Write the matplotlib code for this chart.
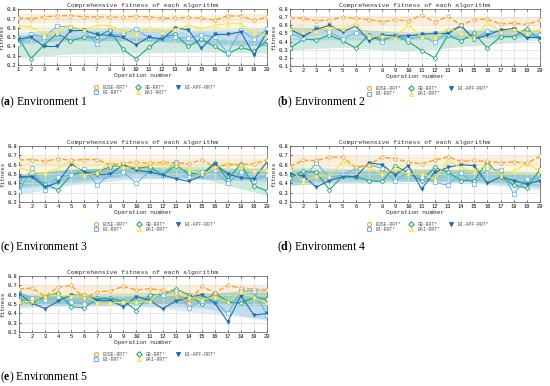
import numpy as np
import matplotlib.pyplot as plt
from matplotlib.lines import Line2D

# operation numbers
ops = list(range(1, 21))
band_x = [1, 5, 10, 15, 20]

algos = ['BOSE-RRT*', 'BI-RRT*', 'GB-RRT*', 'BAI-RRT*', 'BI-APF-RRT*']

# Environment 1
env1_bose = [0.71, 0.70, 0.72, 0.73, 0.735, 0.72, 0.72, 0.715, 0.72, 0.725, 0.72, 0.705, 0.705, 0.715, 0.705, 0.685, 0.73, 0.73, 0.685, 0.715]
env1_bi = [0.43, 0.535, 0.50, 0.62, 0.61, 0.58, 0.43, 0.52, 0.53, 0.59, 0.49, 0.49, 0.50, 0.49, 0.525, 0.50, 0.33, 0.58, 0.48, 0.585]
env1_gb = [0.50, 0.27, 0.42, 0.54, 0.46, 0.50, 0.50, 0.58, 0.37, 0.27, 0.39, 0.50, 0.53, 0.40, 0.48, 0.40, 0.32, 0.39, 0.35, 0.46]
env1_bai = [0.63, 0.61, 0.535, 0.56, 0.62, 0.58, 0.63, 0.625, 0.57, 0.535, 0.60, 0.56, 0.585, 0.63, 0.59, 0.63, 0.645, 0.645, 0.55, 0.515]
env1_apf = [0.48, 0.50, 0.40, 0.40, 0.57, 0.575, 0.53, 0.52, 0.50, 0.42, 0.50, 0.48, 0.60, 0.58, 0.38, 0.53, 0.53, 0.56, 0.31, 0.56]
env1_bands = {
    'BOSE-RRT*': ([0.65, 0.66, 0.66, 0.66, 0.65], [0.76, 0.76, 0.75, 0.74, 0.76]),
    'BAI-RRT*': ([0.55, 0.56, 0.55, 0.56, 0.55], [0.64, 0.63, 0.62, 0.63, 0.63]),
    'BI-RRT*': ([0.44, 0.47, 0.46, 0.45, 0.40], [0.55, 0.60, 0.60, 0.58, 0.60]),
    'GB-RRT*': ([0.28, 0.32, 0.33, 0.34, 0.33], [0.52, 0.52, 0.50, 0.47, 0.47]),
    'BI-APF-RRT*': ([0.42, 0.46, 0.46, 0.42, 0.40], [0.52, 0.58, 0.56, 0.56, 0.56]),
}

# Environment 2
env2_bose = [0.69, 0.685, 0.655, 0.665, 0.70, 0.685, 0.67, 0.645, 0.665, 0.655, 0.725, 0.64, 0.71, 0.60, 0.67, 0.675, 0.615, 0.625, 0.61, 0.66]
env2_bi = [0.50, 0.44, 0.57, 0.52, 0.43, 0.51, 0.47, 0.40, 0.48, 0.43, 0.47, 0.39, 0.52, 0.60, 0.43, 0.53, 0.52, 0.55, 0.47, 0.48]
env2_gb = [0.32, 0.43, 0.42, 0.48, 0.41, 0.32, 0.48, 0.42, 0.47, 0.40, 0.29, 0.20, 0.48, 0.41, 0.50, 0.32, 0.46, 0.46, 0.56, 0.42]
env2_bai = [0.56, 0.52, 0.53, 0.57, 0.56, 0.62, 0.46, 0.47, 0.45, 0.61, 0.46, 0.46, 0.56, 0.50, 0.44, 0.63, 0.52, 0.55, 0.50, 0.55]
env2_apf = [0.55, 0.47, 0.55, 0.60, 0.52, 0.59, 0.41, 0.48, 0.47, 0.47, 0.49, 0.50, 0.50, 0.59, 0.43, 0.48, 0.54, 0.56, 0.45, 0.45]
env2_bands = {
    'BOSE-RRT*': ([0.60, 0.61, 0.61, 0.61, 0.60], [0.72, 0.72, 0.72, 0.71, 0.70]),
    'BAI-RRT*': ([0.47, 0.48, 0.47, 0.48, 0.48], [0.60, 0.60, 0.58, 0.59, 0.58]),
    'BI-RRT*': ([0.42, 0.42, 0.42, 0.44, 0.46], [0.58, 0.56, 0.52, 0.55, 0.54]),
    'GB-RRT*': ([0.30, 0.33, 0.28, 0.35, 0.42], [0.45, 0.46, 0.46, 0.48, 0.50]),
    'BI-APF-RRT*': ([0.47, 0.47, 0.45, 0.47, 0.46], [0.58, 0.57, 0.50, 0.54, 0.54]),
}

# Environment 3
env3_bose = [0.65, 0.655, 0.635, 0.665, 0.645, 0.655, 0.655, 0.595, 0.62, 0.625, 0.615, 0.625, 0.62, 0.61, 0.65, 0.575, 0.60, 0.60, 0.61, 0.65]
env3_bi = [0.32, 0.56, 0.33, 0.47, 0.49, 0.55, 0.38, 0.50, 0.52, 0.40, 0.53, 0.49, 0.63, 0.47, 0.52, 0.54, 0.40, 0.52, 0.43, 0.49]
env3_gb = [0.46, 0.48, 0.39, 0.33, 0.49, 0.52, 0.52, 0.58, 0.59, 0.56, 0.58, 0.49, 0.59, 0.51, 0.50, 0.62, 0.44, 0.61, 0.37, 0.32]
env3_bai = [0.57, 0.52, 0.51, 0.56, 0.64, 0.49, 0.51, 0.63, 0.57, 0.58, 0.60, 0.60, 0.60, 0.54, 0.50, 0.56, 0.62, 0.59, 0.53, 0.54]
env3_apf = [0.47, 0.47, 0.36, 0.41, 0.61, 0.52, 0.49, 0.50, 0.60, 0.54, 0.52, 0.49, 0.45, 0.42, 0.48, 0.61, 0.50, 0.46, 0.45, 0.63]
env3_bands = {
    'BOSE-RRT*': ([0.59, 0.60, 0.59, 0.59, 0.59], [0.69, 0.69, 0.68, 0.68, 0.68]),
    'BAI-RRT*': ([0.50, 0.51, 0.52, 0.51, 0.50], [0.62, 0.62, 0.62, 0.61, 0.62]),
    'BI-RRT*': ([0.28, 0.38, 0.45, 0.45, 0.42], [0.50, 0.55, 0.58, 0.55, 0.52]),
    'GB-RRT*': ([0.35, 0.40, 0.50, 0.45, 0.27], [0.50, 0.55, 0.58, 0.58, 0.55]),
    'BI-APF-RRT*': ([0.36, 0.44, 0.46, 0.44, 0.45], [0.50, 0.56, 0.55, 0.54, 0.58]),
}

# Environment 4
env4_bose = [0.58, 0.645, 0.645, 0.68, 0.68, 0.57, 0.60, 0.68, 0.665, 0.625, 0.61, 0.65, 0.685, 0.635, 0.645, 0.635, 0.62, 0.63, 0.615, 0.69]
env4_bi = [0.54, 0.45, 0.62, 0.46, 0.49, 0.56, 0.60, 0.56, 0.42, 0.53, 0.47, 0.41, 0.38, 0.51, 0.39, 0.56, 0.54, 0.29, 0.45, 0.45]
env4_gb = [0.46, 0.53, 0.52, 0.33, 0.48, 0.47, 0.43, 0.42, 0.59, 0.51, 0.43, 0.57, 0.52, 0.43, 0.43, 0.63, 0.47, 0.38, 0.35, 0.55]
env4_bai = [0.57, 0.41, 0.48, 0.48, 0.63, 0.58, 0.57, 0.50, 0.56, 0.50, 0.50, 0.45, 0.64, 0.57, 0.52, 0.60, 0.48, 0.53, 0.61, 0.53]
env4_apf = [0.50, 0.48, 0.36, 0.43, 0.47, 0.47, 0.62, 0.60, 0.49, 0.59, 0.34, 0.52, 0.57, 0.60, 0.59, 0.40, 0.47, 0.43, 0.39, 0.43]
env4_bands = {
    'BOSE-RRT*': ([0.60, 0.61, 0.60, 0.60, 0.60], [0.70, 0.70, 0.69, 0.69, 0.70]),
    'BAI-RRT*': ([0.47, 0.48, 0.48, 0.48, 0.47], [0.60, 0.60, 0.59, 0.60, 0.60]),
    'BI-RRT*': ([0.38, 0.42, 0.42, 0.40, 0.33], [0.58, 0.56, 0.52, 0.52, 0.50]),
    'GB-RRT*': ([0.38, 0.40, 0.42, 0.42, 0.36], [0.55, 0.52, 0.55, 0.55, 0.52]),
    'BI-APF-RRT*': ([0.40, 0.45, 0.44, 0.42, 0.38], [0.52, 0.55, 0.56, 0.55, 0.48]),
}

# Environment 5
env5_bose = [0.66, 0.67, 0.58, 0.68, 0.70, 0.56, 0.63, 0.64, 0.69, 0.65, 0.665, 0.645, 0.615, 0.51, 0.69, 0.62, 0.70, 0.67, 0.66, 0.645]
env5_bi = [0.62, 0.56, 0.54, 0.57, 0.52, 0.50, 0.52, 0.53, 0.52, 0.52, 0.55, 0.60, 0.64, 0.46, 0.53, 0.52, 0.40, 0.64, 0.64, 0.38]
env5_gb = [0.54, 0.52, 0.58, 0.62, 0.47, 0.46, 0.56, 0.56, 0.53, 0.43, 0.60, 0.60, 0.66, 0.60, 0.50, 0.62, 0.52, 0.51, 0.57, 0.55]
env5_bai = [0.52, 0.53, 0.60, 0.59, 0.59, 0.61, 0.51, 0.51, 0.52, 0.52, 0.53, 0.65, 0.61, 0.58, 0.54, 0.58, 0.52, 0.63, 0.57, 0.51]
env5_apf = [0.61, 0.51, 0.45, 0.53, 0.60, 0.60, 0.54, 0.54, 0.47, 0.58, 0.54, 0.45, 0.53, 0.57, 0.60, 0.51, 0.31, 0.59, 0.38, 0.40]
env5_bands = {
    'BOSE-RRT*': ([0.60, 0.61, 0.61, 0.60, 0.60], [0.70, 0.70, 0.70, 0.70, 0.70]),
    'BAI-RRT*': ([0.50, 0.51, 0.51, 0.51, 0.50], [0.62, 0.62, 0.62, 0.62, 0.62]),
    'BI-RRT*': ([0.50, 0.48, 0.48, 0.46, 0.32], [0.62, 0.57, 0.59, 0.60, 0.68]),
    'GB-RRT*': ([0.48, 0.48, 0.50, 0.50, 0.48], [0.60, 0.60, 0.62, 0.62, 0.62]),
    'BI-APF-RRT*': ([0.45, 0.50, 0.48, 0.40, 0.34], [0.60, 0.60, 0.58, 0.60, 0.60]),
}

colors = {'BOSE-RRT*': '#f2a431', 'BI-RRT*': '#62b6e6', 'GB-RRT*': '#22a37a',
          'BAI-RRT*': '#f2e34d', 'BI-APF-RRT*': '#1f6fb2'}
markers = {'BOSE-RRT*': 'o', 'BI-RRT*': 's', 'GB-RRT*': 'D',
           'BAI-RRT*': '^', 'BI-APF-RRT*': 'v'}
band_alpha = {'BOSE-RRT*': 0.18, 'BI-RRT*': 0.28, 'GB-RRT*': 0.22,
              'BAI-RRT*': 0.22, 'BI-APF-RRT*': 0.12}

mono = 'Liberation Mono'
plt.rcParams['mathtext.fontset'] = 'custom'
plt.rcParams['mathtext.bf'] = 'Liberation Serif:bold'
plt.rcParams['mathtext.rm'] = 'Liberation Serif'

fig = plt.figure(figsize=(5.5, 3.86), dpi=100)
W, H = 550.0, 386.0


def add_axes(left, right, top, bottom):
    return fig.add_axes([left / W, 1 - bottom / H, (right - left) / W, (bottom - top) / H])


def draw_panel(ax, series, bands, ymin):
    # bands first so lines sit on top
    for name in ['BOSE-RRT*', 'BAI-RRT*', 'BI-RRT*', 'GB-RRT*', 'BI-APF-RRT*']:
        lo, hi = bands[name]
        ax.fill_between(band_x, lo, hi, color=colors[name], alpha=band_alpha[name], lw=0)
    order = ['GB-RRT*', 'BI-RRT*', 'BI-APF-RRT*', 'BAI-RRT*', 'BOSE-RRT*']
    for name in order:
        ls = '--' if name == 'BOSE-RRT*' else '-'
        lw = 1.0 if name == 'BOSE-RRT*' else 0.8
        fc = colors[name] if name == 'BI-APF-RRT*' else 'white'
        ax.plot(ops, series[name], ls=ls, lw=lw, color=colors[name], marker=markers[name],
                ms=2.4, mfc=fc, mew=0.55, zorder=3)
    ax.set_xlim(1, 20)
    ax.set_ylim(ymin, 0.8)
    ax.set_xticks(ops)
    ax.set_yticks(np.round(np.arange(ymin, 0.81, 0.1), 1))
    ax.grid(True, color='#dddddd', lw=0.5)
    ax.tick_params(labelsize=3.9, length=1.5, width=0.4, pad=1.5, direction='in', top=True)
    for lab in ax.get_xticklabels() + ax.get_yticklabels():
        lab.set_fontfamily(mono)
    for sp in ax.spines.values():
        sp.set_linewidth(0.5)
        sp.set_color('#555555')
    ax.set_title('Comprehensive fitness of each algorithm', fontsize=4.6, family=mono,
                 pad=1.5, color='#333333')
    ax.set_xlabel('Operation number', fontsize=4.4, family=mono, labelpad=1, color='#333333')
    ax.set_ylabel('fitness', fontsize=4.4, family=mono, labelpad=1, color='#333333')
    handles = [Line2D([], [], ls='none', marker=markers[n], color=colors[n], ms=2.8,
                      mfc=(colors[n] if n == 'BI-APF-RRT*' else 'white'), mew=0.8) for n in algos]
    ax.legend(handles, algos, loc='upper center', bbox_to_anchor=(0.55, -0.31), ncol=3,
              frameon=False, prop={'family': mono, 'size': 3.4}, handletextpad=0.9,
              columnspacing=1.6, labelspacing=0.08, handlelength=1.0, borderpad=0,
              labelcolor='#555555')


envs = [
    ({'BOSE-RRT*': env1_bose, 'BI-RRT*': env1_bi, 'GB-RRT*': env1_gb, 'BAI-RRT*': env1_bai, 'BI-APF-RRT*': env1_apf}, env1_bands, 0.2),
    ({'BOSE-RRT*': env2_bose, 'BI-RRT*': env2_bi, 'GB-RRT*': env2_gb, 'BAI-RRT*': env2_bai, 'BI-APF-RRT*': env2_apf}, env2_bands, 0.1),
    ({'BOSE-RRT*': env3_bose, 'BI-RRT*': env3_bi, 'GB-RRT*': env3_gb, 'BAI-RRT*': env3_bai, 'BI-APF-RRT*': env3_apf}, env3_bands, 0.2),
    ({'BOSE-RRT*': env4_bose, 'BI-RRT*': env4_bi, 'GB-RRT*': env4_gb, 'BAI-RRT*': env4_bai, 'BI-APF-RRT*': env4_apf}, env4_bands, 0.2),
    ({'BOSE-RRT*': env5_bose, 'BI-RRT*': env5_bi, 'GB-RRT*': env5_gb, 'BAI-RRT*': env5_bai, 'BI-APF-RRT*': env5_apf}, env5_bands, 0.2),
]

# panel boxes in pixels: left, right, top, bottom
boxes = [(18, 267, 9.5, 65), (290, 540, 9, 66), (19, 267, 146, 202),
         (290, 540, 146, 202), (19, 267, 276, 332)]
captions = ['a', 'b', 'c', 'd', 'e']
cap_pos = [(0, 102), (277, 102), (0, 247), (277, 247), (0, 377)]

for i in range(5):
    ax = add_axes(*boxes[i])
    draw_panel(ax, envs[i][0], envs[i][1], envs[i][2])
    cx, cy = cap_pos[i]
    fig.text(cx / W, 1 - cy / H, r'($\mathbf{%s}$) Environment %d' % (captions[i], i + 1),
             fontsize=8.5, family='Liberation Serif', va='center', ha='left')

fig.savefig('out.png', dpi=100)
